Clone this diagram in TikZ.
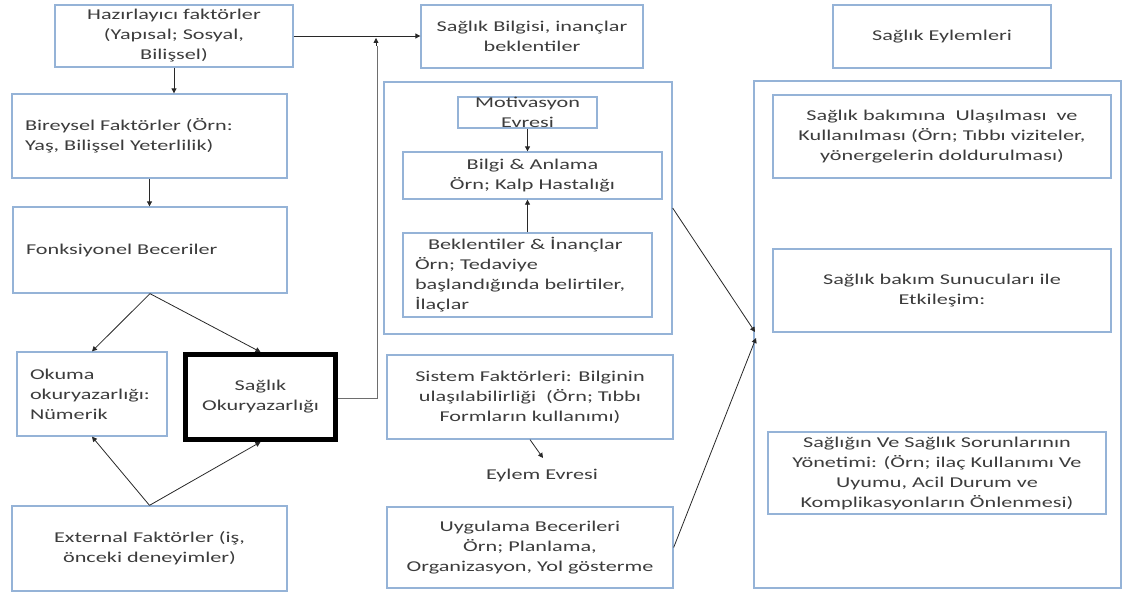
\documentclass[tikz,border=0pt]{standalone}
\usepackage{fontspec}
\setmainfont{Carlito}[FakeStretch=1.48]
\usetikzlibrary{arrows.meta,calc}
\definecolor{bord}{RGB}{149,179,215}
\definecolor{txt}{RGB}{60,60,60}
\definecolor{arrc}{RGB}{40,40,40}
\definecolor{feedc}{RGB}{110,110,110}
\begin{document}
\begin{tikzpicture}[x=1pt,y=-1pt,
  lbl/.style={text=txt, font=\fontsize{15}{20}\selectfont, align=center, inner sep=0pt},
  bx/.style={lbl, draw=bord, line width=1.3pt},
  lbx/.style={bx, align=left, inner xsep=13pt},
  arr/.style={draw=arrc, line width=0.8pt, -{Triangle[length=5pt,width=5pt]}},
  feed/.style={draw=feedc, line width=0.9pt, double=white, double distance=1.2pt},
  feedtip/.style={draw=arrc, fill=arrc, line width=0.8pt, -{Triangle[length=5pt,width=5pt]}}]
\useasboundingbox (0,0) rectangle (1123,594);
% left column
\node[bx, minimum width=238pt, minimum height=62pt] (haz) at (174,36) {Hazırlayıcı faktörler\\(Yapısal; Sosyal,\\Bilişsel)};
\node[lbx, text width=249pt, minimum height=84pt] (bir) at (149.5,136) {Bireysel Faktörler (Örn:\\Yaş, Bilişsel Yeterlilik)};
\node[lbx, text width=248pt, minimum height=86pt] (fon) at (150,250) {Fonksiyonel Beceriler};
\node[lbx, text width=124pt, minimum height=84pt] (oku) at (92,394) {Okuma\\okuryazarlığı:\\Nümerik};
\node[bx, draw=black, line width=5pt, minimum width=150pt, minimum height=85pt] (sok) at (260.5,397) {Sağlık\\Okuryazarlığı};
\node[bx, minimum width=275pt, minimum height=85pt] (ext) at (149.5,548.5) {External Faktörler (iş,\\önceki deneyimler)};
% middle column
\node[bx, minimum width=222pt, minimum height=63pt] (sbi) at (532,36.5) {Sağlık Bilgisi, inançlar\\beklentiler};
\node[bx, minimum width=288pt, minimum height=252pt] (mid) at (528,208) {};
\node[bx, minimum width=139pt, minimum height=31pt] (mot) at (527.5,112.5) {};
\node[lbl] (motT) at (mot.center) {Motivasyon\\Evresi};
\node[bx, minimum width=259pt, minimum height=47pt] (bil) at (532.5,175.5) {Bilgi \& Anlama\\Örn; Kalp Hastalığı};
\node[lbx, inner xsep=12pt, text width=225pt, minimum height=84pt] (bek) at (527.5,275) {\hspace*{13pt}Beklentiler \& İnançlar\\Örn; Tedaviye\\başlandığında belirtiler,\\İlaçlar};
\node[bx, minimum width=286pt, minimum height=84pt] (sis) at (530,397) {Sistem Faktörleri: Bilginin\\ulaşılabilirliği~ (Örn; Tıbbı\\Formların kullanımı)};
\node[lbl] (eyl) at (542,475) {Eylem Evresi};
\node[bx, minimum width=286pt, minimum height=81pt] (uyg) at (530,547.5) {Uygulama Becerileri\\Örn; Planlama,\\Organizasyon, Yol gösterme};
% right column
\node[bx, minimum width=218pt, minimum height=63pt] (sey) at (942,36.5) {Sağlık Eylemleri};
\node[bx, minimum width=367pt, minimum height=507pt] (rgt) at (937.5,334.5) {};
\node[bx, minimum width=338pt, minimum height=83pt] (sb1) at (942,136.5) {Sağlık bakımına~ Ulaşılması~ ve\\Kullanılması (Örn; Tıbbı viziteler,\\yönergelerin doldurulması)};
\node[bx, minimum width=338pt, minimum height=83pt] (sb2) at (942,290.5) {Sağlık bakım Sunucuları ile\\Etkileşim:};
\node[bx, minimum width=338pt, minimum height=82pt] (sb3) at (937,473) {Sağlığın Ve Sağlık Sorunlarının\\Yönetimi: (Örn; ilaç Kullanımı Ve\\Uyumu, Acil Durum ve\\Komplikasyonların Önlenmesi)};
% connectors
\draw[arr] (haz.south) -- (haz.south |- bir.north);
\draw[arr] (bir.south) -- (bir.south |- fon.north);
\draw[arr] (fon.south) -- (oku.north);
\draw[arr] (fon.south) -- (sok.north);
\draw[arr] (ext.north) -- (oku.south);
\draw[arr] (ext.north) -- (sok.south);
\draw[arr] (haz.east) -- (haz.east -| sbi.west);
\coordinate (jn) at (376,38);
\coordinate (jnb) at (376,46);
\draw[feed] (sok.east) -| (jnb);
\draw[feedtip] (jnb) -- (jn);
\draw[arr] (mot.south) -- (mot.south |- bil.north);
\draw[arr] (bek.north) -- (bek.north |- bil.south);
\coordinate (eyTip) at (543,458);
\draw[arr] (sis.south) -- (eyTip);
\coordinate (t1) at (755,332);
\coordinate (t2) at (756,338);
\draw[arr] (mid.east) -- (t1);
\draw[arr] (uyg.east) -- (t2);
\end{tikzpicture}
\end{document}
